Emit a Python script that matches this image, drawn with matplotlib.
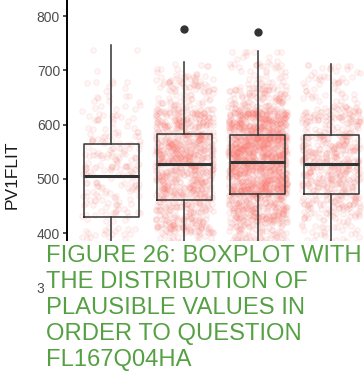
import numpy as np
import matplotlib
matplotlib.use("Agg")
import matplotlib.pyplot as plt
from matplotlib.patches import Rectangle
from matplotlib.colors import to_rgba

plt.rcParams['font.family'] = ['Liberation Sans', 'DejaVu Sans']

# Box statistics per answer group (PV1FLIT)
groups = [1, 2, 3, 4]
whisker_low = [300, 330, 330, 340]
q1 = [429, 460, 472, 472]
medians = [506, 528, 531, 527]
q3 = [564, 582, 581, 581]
whisker_high = [746, 715, 736, 711]
outliers = [[], [776], [771], []]
counts = [260, 1100, 1800, 650]

yticks = [300, 400, 500, 600, 700, 800]
caption = ("FIGURE 26: BOXPLOT WITH\nTHE DISTRIBUTION OF\n"
           "PLAUSIBLE VALUES IN\nORDER TO QUESTION\nFL167Q04HA")

W, H = 364, 375
fig = plt.figure(figsize=(W / 100, H / 100), dpi=100)
ax_left, ax_right = 67, 375
ax_top, ax_bottom = 0, 309
ax = fig.add_axes([ax_left / W, 1 - ax_bottom / H,
                   (ax_right - ax_left) / W, (ax_bottom - ax_top) / H])
ax.set_xlim(0.4, 4.6)
ax.set_ylim(260, 829.5)


def hash01(i, seed):
    # deterministic hash in [0, 1) used for the jitter spread
    x = np.sin(i * 12.9898 + seed * 78.233) * 43758.5453
    return x - np.floor(x)


# jittered points spread through each group's quartiles, thinner in the tails
for k, g in enumerate(groups):
    n = counts[k]
    idx = np.arange(n, dtype=float) + 1.0
    u = hash01(idx, 2 * k + 1)
    v = hash01(idx, 2 * k + 2)
    lo, a, m, b, hi = whisker_low[k], q1[k], medians[k], q3[k], whisker_high[k]
    probs = [0.0, 0.02, 0.10, 0.25, 0.5, 0.75, 0.90, 0.98, 1.0]
    qs = [lo, max(lo, m - 3.0 * (m - a)), max(lo, m - 1.9 * (m - a)), a, m, b,
          min(hi, m + 1.9 * (b - m)), min(hi, m + 3.0 * (b - m)), hi]
    vals = np.interp(v, probs, qs)
    xs = g + (u - 0.5) * 0.8
    ax.scatter(xs, vals, s=16, facecolors=to_rgba('#F8766D', 0.07),
               edgecolors=to_rgba('#F8766D', 0.13), linewidths=0.6, zorder=1)

stats = []
for k in range(len(groups)):
    stats.append(dict(med=medians[k], q1=q1[k], q3=q3[k],
                      whislo=whisker_low[k], whishi=whisker_high[k],
                      fliers=outliers[k]))
ax.bxp(stats, positions=groups, widths=0.75, showcaps=False,
       boxprops=dict(color='#333333', linewidth=1.1),
       whiskerprops=dict(color='#333333', linewidth=1.1),
       medianprops=dict(color='#333333', linewidth=2.2),
       flierprops=dict(marker='o', markerfacecolor='#333333',
                       markeredgecolor='#333333', markersize=5),
       manage_ticks=False, zorder=3)

for s in ['top', 'right', 'bottom']:
    ax.spines[s].set_visible(False)
ax.spines['left'].set_linewidth(1.4)
ax.spines['left'].set_color('black')
ax.set_xticks([])
ax.set_yticks(yticks)
ax.tick_params(axis='y', length=3, width=1.2, color='#333333',
               labelcolor='#4D4D4D', labelsize=10, pad=2)
ax.set_ylabel('PV1FLIT', fontsize=12.5, color='#1A1A1A')
ax.yaxis.set_label_coords((20 - ax_left) / (ax_right - ax_left),
                          (ax_bottom - 175) / (ax_bottom - ax_top))

# caption panel over the lower part of the chart
fig.patches.append(Rectangle((44 / W, 0), 1, (H - 241) / H,
                             transform=fig.transFigure, facecolor='white',
                             edgecolor='none', zorder=5))
fig.text(46 / W, 1 - 245 / H, caption, ha='left', va='top', fontsize=17.1,
         linespacing=1.23, color='#55A043', zorder=6)

fig.savefig('out.png', dpi=100)
